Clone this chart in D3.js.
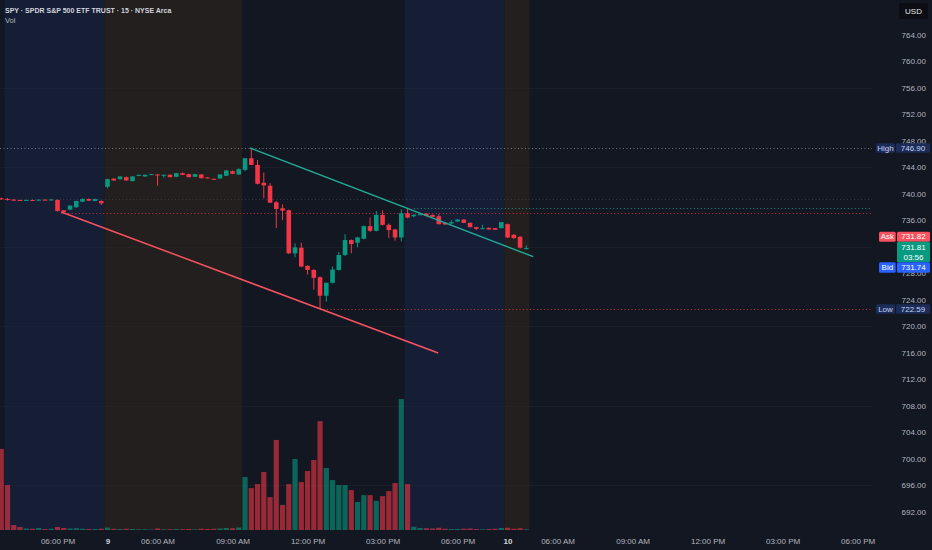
<!DOCTYPE html>
<meta charset="utf-8">
<style>
html, body {
  margin: 0;
  padding: 0;
  background: #131722;
}
svg {
  display: block;
  font-family: "Liberation Sans", Arial, sans-serif;
}
.tick text {
  fill: #b2b5be;
  font-size: 8px;
}
</style>
<svg id="chart" width="932" height="550"></svg>
<script src="https://cdn.jsdelivr.net/npm/d3@7/dist/d3.min.js"></script>
<script>

// 15 minute bars, index 0 = 09:30 on the 9th
var firstBar = -39;
var opens = [739.30, 739.20, 739.10, 739.05, 738.98, 739.05, 739.00, 739.10, 739.05,
  739.05, 737.50, 737.60, 737.95, 738.80, 739.20, 738.90, 738.90,
  741.05, 742.27, 742.20, 742.50, 741.90, 742.70, 742.60, 742.90, 742.90, 742.80, 742.85,
  742.55, 743.10, 742.95, 742.55, 742.90, 742.45, 742.25, 742.30, 742.70, 743.40, 742.90,
  743.60, 745.35, 744.35, 741.65, 741.20, 738.70, 737.80, 737.50, 731.00, 731.85, 729.10,
  728.50, 727.40, 724.60, 726.55, 728.50, 730.75, 733.00, 732.60, 733.20, 735.10, 734.40,
  736.80, 735.30, 734.60, 733.40,
  737.05, 736.60, 736.85, 737.00, 736.80, 736.60, 735.60, 735.50, 735.80, 736.10, 735.60,
  734.95, 734.70, 734.85, 734.80, 734.80,
  735.40, 733.80, 733.50, 731.75];
var highs = [739.40, 739.35, 739.20, 739.10, 739.12, 739.12, 739.15, 739.18, 739.20,
  739.15, 737.55, 738.25, 738.95, 739.30, 739.30, 739.25, 739.00,
  742.25, 742.35, 742.65, 742.60, 742.65, 742.90, 742.90, 743.00, 743.00, 742.90, 742.95,
  743.15, 743.20, 743.00, 743.00, 742.95, 742.50, 742.30, 742.95, 743.55, 743.50, 743.85,
  745.40, 746.90, 745.10, 743.20, 741.60, 738.90, 738.40, 737.60, 732.50, 732.60, 729.20,
  728.60, 727.50, 726.60, 729.00, 731.20, 733.90, 733.10, 733.50, 735.20, 736.40, 737.40,
  737.50, 735.50, 734.70, 737.65,
  737.70, 736.90, 737.00, 737.05, 736.85, 736.95, 735.70, 736.00, 736.15, 736.15, 735.65,
  735.00, 735.30, 734.90, 734.85, 735.75,
  735.50, 733.90, 733.60, 732.20];
var lows = [739.05, 738.95, 738.90, 738.95, 738.92, 738.95, 738.95, 739.00, 739.00,
  737.30, 737.05, 737.50, 737.90, 738.75, 738.90, 738.85, 738.30,
  740.80, 741.95, 742.10, 741.95, 741.85, 742.65, 742.55, 742.85, 741.20, 742.40, 742.45,
  742.50, 742.80, 742.45, 742.50, 742.30, 742.30, 742.10, 742.25, 742.65, 742.95, 742.85,
  743.40, 744.30, 741.40, 739.30, 738.60, 734.80, 736.00, 730.90, 730.40, 728.90, 727.80,
  725.50, 722.59, 723.70, 726.45, 728.40, 730.60, 731.00, 731.90, 733.10, 734.20, 734.30,
  735.20, 733.30, 732.90, 732.80,
  736.30, 736.45, 736.75, 736.60, 736.45, 735.35, 735.30, 735.40, 735.75, 735.55, 734.90,
  734.50, 734.65, 734.55, 734.50, 734.75,
  733.30, 733.20, 731.70, 731.55];
var closes = [739.15, 739.05, 739.00, 739.00, 739.05, 739.00, 739.10, 739.05, 739.12,
  737.40, 737.25, 738.20, 738.90, 739.20, 738.95, 739.20, 738.55,
  742.20, 742.00, 742.60, 742.00, 742.60, 742.85, 742.85, 742.95, 742.80, 742.85, 742.50,
  743.10, 742.85, 742.50, 742.95, 742.35, 742.35, 742.20, 742.90, 743.50, 743.00, 743.70,
  745.35, 744.35, 741.50, 741.25, 738.65, 737.70, 737.45, 731.00, 731.90, 729.00, 728.50,
  727.30, 724.60, 726.55, 728.55, 730.75, 733.00, 732.40, 733.40, 735.10, 734.40, 736.80,
  735.30, 734.50, 733.40, 737.05,
  736.40, 736.80, 736.90, 736.65, 736.50, 735.40, 735.35, 735.70, 736.10, 735.60, 734.95,
  734.70, 734.80, 734.60, 734.55, 735.70,
  733.40, 733.30, 731.85, 731.81];
// volume in millions of shares
var volumes = [3.23, 1.79, 0.20, 0.12, 0.06, 0.05, 0.08, 0.04, 0.05,
  0.12, 0.08, 0.06, 0.07, 0.05, 0.04, 0.04, 0.05,
  0.10, 0.05, 0.04, 0.05, 0.04, 0.03, 0.03, 0.02, 0.06, 0.03, 0.03,
  0.04, 0.03, 0.04, 0.03, 0.05, 0.04, 0.05, 0.06, 0.08, 0.07, 0.10,
  2.11, 1.67, 1.83, 2.31, 1.31, 3.59, 1.00, 1.83, 2.83, 1.91, 2.35,
  2.79, 4.34, 2.47, 1.99, 1.79, 1.79, 1.59, 1.12, 1.39, 1.39, 1.16,
  1.35, 1.55, 1.87, 5.22,
  1.83, 0.13, 0.08, 0.07, 0.06, 0.09, 0.05, 0.04, 0.04, 0.05, 0.06,
  0.04, 0.03, 0.04, 0.05, 0.08,
  0.09, 0.05, 0.07, 0.03];

// extended hours sessions (bar index ranges)
var sessionStart = [-38, -22, 26, 42];
var sessionEnd = [-23, -1, 41, 45];
var sessionFill = ["#151e35", "#231f1e", "#151e35", "#231f1e"];

var timeTicks = [-30, -22, -14, -2, 10, 22, 34, 42, 50, 62, 74, 86, 98];
var timeLabels = ["06:00 PM", "9", "06:00 AM", "09:00 AM", "12:00 PM", "03:00 PM", "06:00 PM",
  "10", "06:00 AM", "09:00 AM", "12:00 PM", "03:00 PM", "06:00 PM"];
var priceTicks = d3.range(692, 765, 4);

// drawn trend lines [bar, price]
var upperTrend = [[0.8, 746.90], [46.1, 730.50]];
var lowerTrend = [[-29.4, 737.24], [30.9, 715.95]];

// horizontal levels
var levelPrice = [746.90, 737.80, 737.05, 722.59, 739.25];
var levelFrom = [-39.2, 27, -29.4, 12, -39.2];
var levelColor = ["#8a8e99", "#22ab94", "#f23645", "#f23645", "#3e424d"];

var W = 932, H = 550, plotRight = 872, plotBottom = 530;
var green = "#089981", red = "#f23645";

var svg = d3.select("#chart");

var x = d3.scaleLinear().domain([-39.2, 100.3]).range([0, plotRight]);
var y = d3.scaleLinear().domain([764, 692]).range([34.7, 511.7]);
var yVol = d3.scaleLinear().domain([0, 5.5]).range([plotBottom, 392]);

var bars = opens.map(function(o, i) {
  return {i: firstBar + i, o: o, h: highs[i], l: lows[i], c: closes[i], v: volumes[i]};
});

svg.append("rect").attr("width", W).attr("height", H).attr("fill", "#131722");

// session backgrounds
svg.append("g").selectAll("rect")
  .data(sessionStart)
  .enter().append("rect")
    .attr("x", function(d) { return x(d - 0.5); })
    .attr("y", 0)
    .attr("width", function(d, i) { return x(sessionEnd[i] + 0.5) - x(d - 0.5); })
    .attr("height", plotBottom)
    .attr("fill", function(d, i) { return sessionFill[i]; });

// faint grid
svg.append("g").selectAll("line")
  .data([756, 744, 732, 720, 708, 696])
  .enter().append("line")
    .attr("x1", 0).attr("x2", plotRight)
    .attr("y1", function(d) { return Math.round(y(d)) + 0.5; })
    .attr("y2", function(d) { return Math.round(y(d)) + 0.5; })
    .attr("stroke", "#2a2e39").attr("stroke-opacity", 0.3);

// volume
svg.append("g").selectAll("rect")
  .data(bars)
  .enter().append("rect")
    .attr("x", function(d) { return x(d.i) - 2.6; })
    .attr("width", 5.2)
    .attr("y", function(d) { return yVol(d.v); })
    .attr("height", function(d) { return plotBottom - yVol(d.v); })
    .attr("fill", function(d) { return d.c >= d.o ? green : red; })
    .attr("fill-opacity", 0.6);

// dotted levels
svg.append("g").selectAll("line")
  .data(levelPrice)
  .enter().append("line")
    .attr("x1", function(d, i) { return x(levelFrom[i]); })
    .attr("x2", plotRight)
    .attr("y1", function(d) { return Math.round(y(d)) + 0.5; })
    .attr("y2", function(d) { return Math.round(y(d)) + 0.5; })
    .attr("stroke", function(d, i) { return levelColor[i]; })
    .attr("stroke-opacity", 0.8)
    .attr("stroke-dasharray", "1,2.5");

// candles
var candle = svg.append("g").selectAll("g")
  .data(bars)
  .enter().append("g")
    .attr("fill", function(d) { return d.c >= d.o ? green : red; })
    .attr("stroke", function(d) { return d.c >= d.o ? green : red; });

candle.append("line")
  .attr("x1", function(d) { return x(d.i); })
  .attr("x2", function(d) { return x(d.i); })
  .attr("y1", function(d) { return y(d.h); })
  .attr("y2", function(d) { return y(d.l); })
  .attr("stroke-width", 1);

candle.append("rect")
  .attr("stroke", "none")
  .attr("x", function(d) { return x(d.i) - 2.3; })
  .attr("width", 4.6)
  .attr("y", function(d) { return y(Math.max(d.o, d.c)); })
  .attr("height", function(d) { return Math.max(1, Math.abs(y(d.o) - y(d.c))); });

// trend lines
var line = d3.line()
  .x(function(d) { return x(d[0]); })
  .y(function(d) { return y(d[1]); });

svg.append("path").datum(upperTrend)
  .attr("d", line).attr("fill", "none")
  .attr("stroke", "#22ab94").attr("stroke-width", 1.5);
svg.append("path").datum(lowerTrend)
  .attr("d", line).attr("fill", "none")
  .attr("stroke", "#f7525f").attr("stroke-width", 1.5);

// price axis
var yAxis = svg.append("g")
  .attr("transform", "translate(" + plotRight + ",0)")
  .call(d3.axisRight(y).tickValues(priceTicks).tickFormat(d3.format(".2f")).tickSize(0));
yAxis.select(".domain").remove();
yAxis.selectAll("text")
  .attr("x", 54)
  .attr("dy", "0.32em")
  .attr("text-anchor", "end");

// time axis
var xAxis = svg.append("g")
  .attr("transform", "translate(0," + plotBottom + ")")
  .call(d3.axisBottom(x).tickValues(timeTicks)
    .tickFormat(function(d, i) { return timeLabels[i]; }).tickSize(0));
xAxis.select(".domain").remove();
xAxis.selectAll("text")
  .attr("y", 11.7)
  .attr("dy", "0.32em")
  .filter(function(d, i) { return timeLabels[i].length < 3; })
    .style("fill", "#d1d4dc")
    .style("font-weight", "bold");

// title
svg.append("text")
  .attr("x", 5).attr("y", 10.7).attr("dy", "0.32em")
  .attr("fill", "#d1d4dc").attr("font-size", 7).attr("font-weight", 600)
  .text("SPY · SPDR S&P 500 ETF TRUST · 15 · NYSE Arca");
svg.append("text")
  .attr("x", 5).attr("y", 21).attr("dy", "0.32em")
  .attr("fill", "#b2b5be").attr("font-size", 7.5)
  .text("Vol");

// price tags on the scale
function tag(x0, y0, w, h, fill, lines, color) {
  svg.append("rect")
    .attr("x", x0).attr("y", y0).attr("width", w).attr("height", h)
    .attr("rx", 1.5).attr("fill", fill);
  lines.forEach(function(t, k) {
    svg.append("text")
      .attr("x", x0 + w / 2)
      .attr("y", y0 + (h / lines.length) * (k + 0.5))
      .attr("dy", "0.34em")
      .attr("text-anchor", "middle")
      .attr("font-size", 8)
      .attr("fill", color)
      .text(t);
  });
}

var yHigh = y(746.90), yLow = y(722.59), yLast = y(731.81);
tag(876, yHigh - 4.7, 19, 9.4, "#1b2c58", ["High"], "#c7d2f2");
tag(896, yHigh - 4.7, 34, 9.4, "#1b2c58", ["746.90"], "#c7d2f2");
tag(876, yLow - 4.7, 19, 9.4, "#1b2c58", ["Low"], "#c7d2f2");
tag(896, yLow - 4.7, 34, 9.4, "#1b2c58", ["722.59"], "#c7d2f2");
tag(879, yLast - 16.3, 16.7, 10, "#f7525f", ["Ask"], "#ffffff");
tag(897, yLast - 16.3, 33, 10, "#f7525f", ["731.82"], "#ffffff");
tag(897, yLast - 6.3, 33, 20.6, green, ["731.81", "03:56"], "#ffffff");
tag(879, yLast + 14.3, 16.7, 10.4, "#2962ff", ["Bid"], "#ffffff");
tag(897, yLast + 14.3, 33, 10.4, "#2962ff", ["731.74"], "#ffffff");

tag(899, 3, 29, 16, "#0b0d12", ["USD"], "#e6e8ee");

</script>
